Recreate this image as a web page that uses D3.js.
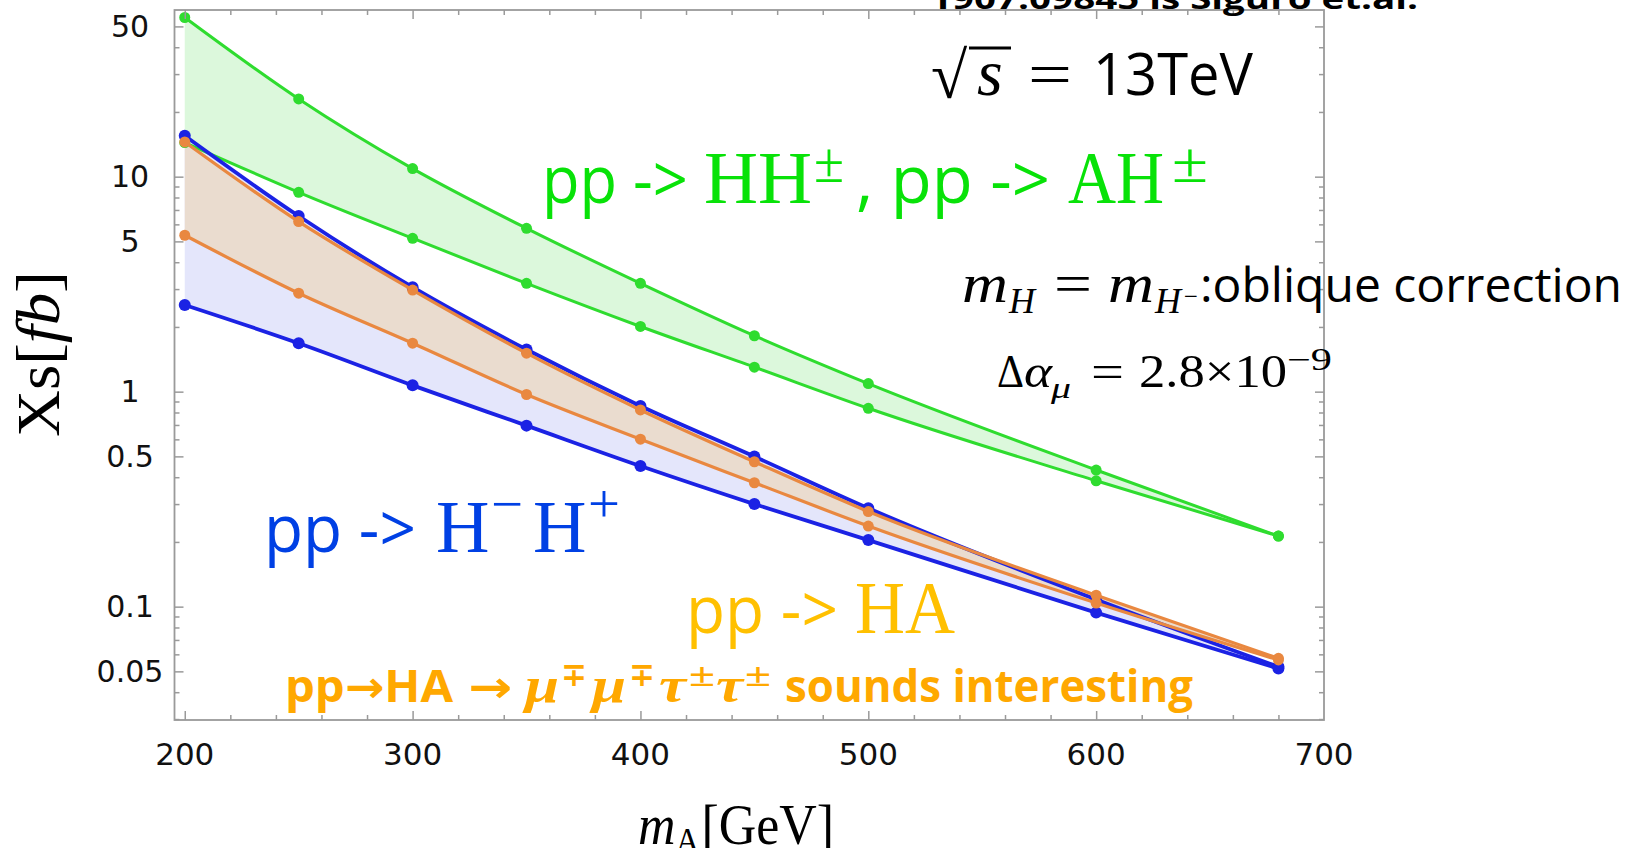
<!DOCTYPE html>
<html>
<head>
<meta charset="utf-8">
<script src="https://cdn.jsdelivr.net/npm/d3@7"></script>
<style>
  html, body { margin: 0; padding: 0; background: #fff; overflow: hidden; }
</style>
</head>
<body>
<svg id="chart" width="1641" height="848"></svg>
<script>
// ---------------- data ----------------
const massA = [200, 250, 300, 350, 400, 450, 500, 600, 680];

// pp -> HH±, AH±  (green band)
const greenUpper = [55.0, 23.0, 10.9, 5.75, 3.19, 1.82, 1.09, 0.432, 0.213];
const greenLower = [14.4, 8.46, 5.17, 3.19, 2.01, 1.30, 0.837, 0.385, 0.213];

// pp -> H-H+  (blue band)
const blueUpper = [15.5, 6.56, 3.06, 1.57, 0.858, 0.499, 0.287, 0.108, 0.0525];
const blueLower = [2.53, 1.68, 1.07, 0.695, 0.451, 0.300, 0.204, 0.0938, 0.0515];

// pp -> HA  (orange band)
const orangeUpper = [14.5, 6.18, 2.97, 1.51, 0.822, 0.472, 0.277, 0.113, 0.0575];
const orangeLower = [5.34, 2.87, 1.68, 0.97, 0.601, 0.377, 0.237, 0.104, 0.0565];

const xTickLabels = [200, 300, 400, 500, 600, 700];
const yTickLabels = [0.05, 0.1, 0.5, 1, 5, 10, 50];

// ---------------- setup ----------------
const svg = d3.select("#chart");
const frame = { left: 174.5, right: 1324, top: 10, bottom: 720 };

const x = d3.scaleLinear().domain([195.5, 700]).range([frame.left, frame.right]);
const y = d3.scaleLog().domain([0.0297, 59.6]).range([frame.bottom, frame.top]);

const SANS = "'Open Sans', 'DejaVu Sans', sans-serif";
const SERIF = "'Liberation Serif', 'DejaVu Serif', serif";
const TICKFONT = "'DejaVu Sans', sans-serif";
const axisGray = "#9a9a9a";

// minor tick values
const xMinor = d3.range(200, 701, 20).filter(v => !xTickLabels.includes(v));
const yMinor = [];
[-2, -1, 0, 1].forEach(k => {
  for (let m = 1; m <= 9; m++) {
    const v = +(m * Math.pow(10, k)).toPrecision(3);
    if (v >= y.domain()[0] && v <= y.domain()[1] && !yTickLabels.includes(v)) yMinor.push(v);
  }
});

const plot = svg.append("g");

// ---------------- bands ----------------
function bandData(lo, hi) {
  return massA.map((m, i) => ({ m, lo: lo[i], hi: hi[i] }));
}
const curve = d3.curveMonotoneX;
const area = d3.area().x(d => x(d.m)).y0(d => y(d.lo)).y1(d => y(d.hi)).curve(curve);
const line = d3.line().x(d => x(d.m)).y(d => y(d.v)).curve(curve);

const bands = [
  { lo: greenLower, hi: greenUpper, fill: "#dcf8dc", stroke: "#2fdc2f", w: 3, r: 5.5 },
  { lo: blueLower, hi: blueUpper, fill: "#e4e6fb", stroke: "#1b22e4", w: 3.8, r: 6 },
  { lo: orangeLower, hi: orangeUpper, fill: "#eadccf", stroke: "#e98840", w: 3.2, r: 5.5 }
];

bands.forEach(b => {
  plot.append("path").datum(bandData(b.lo, b.hi))
    .attr("d", area).attr("fill", b.fill).attr("stroke", "none");
});

bands.forEach(b => {
  [b.hi, b.lo].forEach(series => {
    const pts = massA.map((m, i) => ({ m, v: series[i] }));
    plot.append("path").datum(pts)
      .attr("d", line).attr("fill", "none")
      .attr("stroke", b.stroke).attr("stroke-width", b.w)
      .attr("stroke-linejoin", "round");
    plot.selectAll(null).data(pts).enter().append("circle")
      .attr("cx", d => x(d.m)).attr("cy", d => y(d.v))
      .attr("r", b.r).attr("fill", b.stroke);
  });
});

// ---------------- frame & ticks ----------------
const axes = svg.append("g");
function styleAxis(g) {
  g.select(".domain").remove();
  g.selectAll(".tick line").attr("stroke", axisGray).attr("stroke-width", 1.5);
  g.selectAll(".tick text").remove();
}
const xMajorIn = xTickLabels.filter(v => v < 700);
// bottom
axes.append("g").attr("transform", `translate(0,${frame.bottom})`)
  .call(d3.axisBottom(x).tickValues(xMajorIn).tickSize(-9).tickFormat("")).call(styleAxis);
axes.append("g").attr("transform", `translate(0,${frame.bottom})`)
  .call(d3.axisBottom(x).tickValues(xMinor).tickSize(-5).tickFormat("")).call(styleAxis);
// top
axes.append("g").attr("transform", `translate(0,${frame.top})`)
  .call(d3.axisTop(x).tickValues(xMajorIn).tickSize(-9).tickFormat("")).call(styleAxis);
axes.append("g").attr("transform", `translate(0,${frame.top})`)
  .call(d3.axisTop(x).tickValues(xMinor).tickSize(-5).tickFormat("")).call(styleAxis);
// left
axes.append("g").attr("transform", `translate(${frame.left},0)`)
  .call(d3.axisLeft(y).tickValues(yTickLabels).tickSize(-9).tickFormat("")).call(styleAxis);
axes.append("g").attr("transform", `translate(${frame.left},0)`)
  .call(d3.axisLeft(y).tickValues(yMinor).tickSize(-5).tickFormat("")).call(styleAxis);
// right
axes.append("g").attr("transform", `translate(${frame.right},0)`)
  .call(d3.axisRight(y).tickValues(yTickLabels).tickSize(-9).tickFormat("")).call(styleAxis);
axes.append("g").attr("transform", `translate(${frame.right},0)`)
  .call(d3.axisRight(y).tickValues(yMinor).tickSize(-5).tickFormat("")).call(styleAxis);

axes.append("rect")
  .attr("x", frame.left).attr("y", frame.top)
  .attr("width", frame.right - frame.left).attr("height", frame.bottom - frame.top)
  .attr("fill", "none").attr("stroke", axisGray).attr("stroke-width", 1.8);

// tick labels
axes.selectAll(null).data(xTickLabels).enter().append("text")
  .attr("x", d => x(d)).attr("y", 765)
  .attr("text-anchor", "middle")
  .attr("font-family", TICKFONT).attr("font-size", 31).attr("fill", "#111")
  .text(d => d);

axes.selectAll(null).data(yTickLabels).enter().append("text")
  .attr("x", 130).attr("y", d => y(d)).attr("dy", "0.36em")
  .attr("text-anchor", "middle")
  .attr("font-family", TICKFONT).attr("font-size", 30).attr("fill", "#111")
  .text(d => d);

// y axis title
const yl = svg.append("text")
  .attr("transform", "translate(59,354) rotate(-90)")
  .attr("text-anchor", "middle")
  .attr("font-family", SERIF).attr("font-size", 62).attr("fill", "#000")
  .attr("textLength", 166).attr("lengthAdjust", "spacingAndGlyphs");
yl.append("tspan").text("Xs[");
yl.append("tspan").attr("font-style", "italic").text("fb");
yl.append("tspan").text("]");

// ---------------- annotations ----------------
const notes = svg.append("g");
function seg(s) {
  const t = notes.append("text")
    .attr("x", s.x).attr("y", s.y)
    .attr("font-family", s.f).attr("font-size", s.s)
    .attr("font-style", s.i ? "italic" : "normal")
    .attr("font-weight", s.b ? "bold" : "normal")
    .attr("fill", s.c || "#000")
    .text(s.t);
  if (s.len) t.attr("textLength", s.len).attr("lengthAdjust", "spacingAndGlyphs");
  return t;
}

// x axis title: m_A[GeV]
const xl = notes.append("text").attr("x", 638).attr("y", 844)
  .attr("font-family", SERIF).attr("font-size", 56).attr("fill", "#000")
  .attr("textLength", 196).attr("lengthAdjust", "spacingAndGlyphs");
xl.append("tspan").attr("font-style", "italic").text("m");
xl.append("tspan").attr("font-size", 36).attr("dy", 9).text("A");
xl.append("tspan").attr("dy", -9).attr("dx", 2).text("[GeV]");

// header (cut off at the top of the page)
seg({ t: "1907.09845 is Siguro et.al.", x: 930, y: 9, s: 28, f: SANS, b: true, len: 488 });

// sqrt(s) = 13TeV
seg({ t: "√", x: 931, y: 98, s: 66, f: SERIF });
notes.append("line").attr("x1", 969).attr("x2", 1011).attr("y1", 48).attr("y2", 48)
  .attr("stroke", "#000").attr("stroke-width", 3.2);
seg({ t: "s", x: 977, y: 95, s: 66, f: SERIF, i: true });
seg({ t: "=", x: 1028, y: 95, s: 62, f: SERIF, len: 44 });
seg({ t: "13TeV", x: 1093, y: 95, s: 58, f: SANS, len: 160 });

// green label
const GREEN = "#08e208";
seg({ t: "pp ->", x: 542, y: 203, s: 66, f: SANS, c: GREEN, len: 146 });
seg({ t: "HH", x: 704, y: 203, s: 74, f: SERIF, c: GREEN, len: 108 });
seg({ t: "±", x: 814, y: 182, s: 56, f: SERIF, c: GREEN, len: 30 });
seg({ t: ", pp ->", x: 856, y: 203, s: 66, f: SANS, c: GREEN, len: 194 });
seg({ t: "AH", x: 1068, y: 203, s: 74, f: SERIF, c: GREEN, len: 96 });
seg({ t: "±", x: 1172, y: 182, s: 56, f: SERIF, c: GREEN, len: 36 });

// m_H = m_H- : oblique correction
seg({ t: "m", x: 962, y: 302, s: 54, f: SERIF, i: true, len: 46 });
seg({ t: "H", x: 1009, y: 313, s: 36, f: SERIF, i: true, len: 26 });
seg({ t: "=", x: 1054, y: 302, s: 54, f: SERIF, len: 38 });
seg({ t: "m", x: 1108, y: 302, s: 54, f: SERIF, i: true, len: 46 });
seg({ t: "H", x: 1155, y: 313, s: 36, f: SERIF, i: true, len: 26 });
seg({ t: "−", x: 1184, y: 305, s: 26, f: SERIF, len: 14 });
seg({ t: ":oblique correction", x: 1200, y: 302, s: 47, f: SANS, len: 422 });

// delta a_mu
seg({ t: "Δ", x: 997, y: 387, s: 46, f: SERIF, len: 27 });
seg({ t: "α", x: 1024, y: 387, s: 46, f: SERIF, i: true, len: 28 });
seg({ t: "μ", x: 1051, y: 398, s: 30, f: SERIF, i: true, len: 20 });
seg({ t: "=", x: 1091, y: 387, s: 46, f: SERIF, len: 33 });
seg({ t: "2.8×10", x: 1139, y: 387, s: 46, f: SERIF, len: 148 });
seg({ t: "−9", x: 1287, y: 370, s: 31, f: SERIF, len: 45 });

// blue label
const BLUE = "#0040e4";
seg({ t: "pp ->", x: 264, y: 552, s: 66, f: SANS, c: BLUE, len: 152 });
seg({ t: "H", x: 436, y: 552, s: 74, f: SERIF, c: BLUE });
seg({ t: "−", x: 491, y: 522, s: 54, f: SERIF, c: BLUE, len: 32 });
seg({ t: "H", x: 533, y: 552, s: 74, f: SERIF, c: BLUE });
seg({ t: "+", x: 588, y: 522, s: 54, f: SERIF, c: BLUE, len: 32 });

// orange label
const GOLD = "#ffc000";
seg({ t: "pp ->", x: 686, y: 633, s: 66, f: SANS, c: GOLD, len: 152 });
seg({ t: "HA", x: 855, y: 633, s: 74, f: SERIF, c: GOLD, len: 100 });

// bold orange note
const ORANGE = "#ffa800";
seg({ t: "pp→HA", x: 285, y: 702, s: 44, f: SANS, b: true, c: ORANGE, len: 168 });
seg({ t: "→", x: 468, y: 702, s: 44, f: SANS, b: true, c: ORANGE, len: 44 });
seg({ t: "μ", x: 525, y: 702, s: 50, f: SERIF, b: true, i: true, c: ORANGE, len: 34 });
seg({ t: "∓", x: 561, y: 686, s: 34, f: SERIF, b: true, c: ORANGE, len: 26 });
seg({ t: "μ", x: 592, y: 702, s: 50, f: SERIF, b: true, i: true, c: ORANGE, len: 34 });
seg({ t: "∓", x: 629, y: 686, s: 34, f: SERIF, b: true, c: ORANGE, len: 26 });
seg({ t: "τ", x: 659, y: 702, s: 50, f: SERIF, b: true, i: true, c: ORANGE, len: 27 });
seg({ t: "±", x: 689, y: 686, s: 34, f: SERIF, b: true, c: ORANGE, len: 26 });
seg({ t: "τ", x: 716, y: 702, s: 50, f: SERIF, b: true, i: true, c: ORANGE, len: 27 });
seg({ t: "±", x: 745, y: 686, s: 34, f: SERIF, b: true, c: ORANGE, len: 26 });
seg({ t: "sounds interesting", x: 785, y: 702, s: 44, f: SANS, b: true, c: ORANGE, len: 408 });
</script>
</body>
</html>
